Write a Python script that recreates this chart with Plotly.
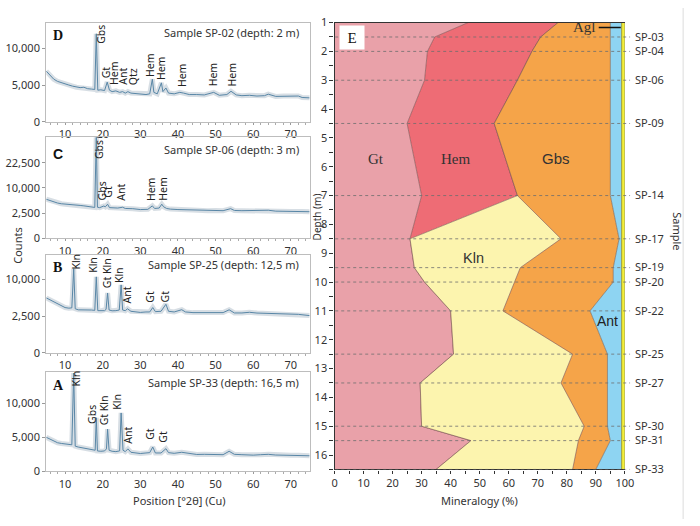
import numpy as np
import plotly.graph_objects as go

W, H = 700, 526
def fx(p): return p / W
def fy(p): return 1 - p / H

# ---------------- XRD data (2theta, counts) ----------------
D_tt = [5, 6, 7, 8, 9, 10, 11, 12, 13, 14, 15, 16, 17, 17.9, 18.3, 18.7, 19.5, 20.5, 21.2, 21.8, 22.5, 23.5, 24.5, 25.3,
        26, 26.7, 27.5, 28.5, 30, 31.5, 32.5, 33.2, 33.6, 34.5, 35.6, 36, 36.8, 37.5, 39, 40.5, 41.5, 43, 45, 47, 49.5,
        51, 53, 54.1, 55.5, 57, 59, 61, 63, 64, 66, 68, 70, 72, 73, 75]
D_cnt = [6900, 6300, 5800, 5500, 5300, 5150, 5000, 4850, 4700, 4650, 4700, 4500, 4450, 4400, 12000, 4300, 4350, 4250,
         5400, 4300, 4100, 4200, 4000, 4100, 3900, 4100, 3900, 3850, 3800, 3700, 3800, 5800, 4000, 3800, 5300, 4100,
         4600, 3900, 3800, 4000, 3900, 3700, 3700, 3650, 4000, 3600, 3700, 4150, 3650, 3550, 3600, 3500, 3550, 3750,
         3450, 3500, 3450, 3500, 3300, 3250]
D_labels = [("Gbs", 19.5, 10400), ("Gt", 20.8, 5600), ("Hem", 23.2, 4700), ("Ant", 25.4, 4700), ("Qtz", 27.9, 4700),
            ("Hem", 32.7, 5900), ("Hem", 35.7, 5370), ("Hem", 40.9, 4490), ("Hem", 49.2, 4490), ("Hem", 54.3, 4490)]

C_tt = [5, 6, 7, 8, 9, 10, 12, 14, 15, 16, 17, 17.9, 18.3, 18.6, 19.2, 20.3, 20.7, 21.3, 21.8, 23, 24, 25.3, 26, 28,
        30, 32, 33.2, 33.8, 35, 35.7, 36.2, 37, 38, 40, 42, 45, 48, 50, 52, 54, 55, 57, 60, 63, 64, 66, 70, 73, 75]
C_cnt = [6000, 5600, 5200, 4900, 4700, 4570, 4400, 4250, 4140, 4000, 3850, 3750, 42000, 3800, 3700, 4100, 3900, 4570,
         3700, 3650, 3600, 3800, 3500, 3450, 3250, 3300, 4140, 3500, 3600, 4570, 3900, 3500, 3350, 3250, 3200, 3050,
         3000, 3050, 3000, 3450, 3050, 3000, 3000, 2950, 3100, 2900, 2850, 2800, 2780]
C_labels = [("Gbs", 19.0, 23800), ("Gbs", 19.9, 5010), ("Gt", 21.5, 5960), ("Ant", 25.0, 5010),
            ("Hem", 32.7, 5010), ("Hem", 35.8, 5010)]

B_tt = [5, 6, 7, 8, 9, 10, 11, 11.8, 12.3, 12.7, 13.5, 15, 16, 17, 17.9, 18.3, 18.7, 19.5, 20.5, 20.9, 21.3, 21.7,
        22.5, 23.5, 24.4, 24.9, 25.3, 26, 26.6, 27.5, 29, 30, 31.5, 32.5, 33.3, 34, 35.5, 36.8, 37.5, 39, 41, 42, 44,
        46, 48, 50, 52, 53.6, 55, 57, 59, 61, 63, 66, 68, 70, 72, 75]
B_cnt = [5600, 5200, 4800, 4370, 4100, 3800, 3700, 3750, 13100, 3600, 3430, 3450, 3400, 3400, 3350, 10700, 3300, 3250,
         3300, 3500, 6640, 3400, 3280, 3300, 3400, 8560, 3400, 3300, 3600, 3200, 3150, 3030, 3100, 3100, 3800, 3150,
         3200, 4370, 3200, 3100, 3450, 3100, 3000, 3000, 2950, 2950, 3000, 3430, 2950, 2950, 3050, 2935, 2900, 2850,
         2850, 2800, 2750, 2570]
B_labels = [("Kln", 12.8, 12100), ("Kln", 17.6, 11170), ("Gt Kln", 21.0, 7380), ("Kln", 24.4, 8560),
            ("Ant", 26.5, 4080), ("Gt", 32.7, 4370), ("Gt", 36.6, 4370)]

A_tt = [5, 6, 7, 8, 9, 10, 11, 11.8, 12.3, 12.7, 13.5, 15, 16, 17.5, 18.0, 18.3, 18.6, 19.5, 20.5, 21.0, 21.3, 21.7,
        22.5, 23.5, 24.5, 24.9, 25.4, 26, 26.7, 27.5, 29, 30, 31.5, 32.5, 33.3, 34, 35.5, 36.8, 37.5, 39, 41, 43, 45,
        47, 50, 52, 53.6, 55, 57, 60, 62, 64, 66, 68, 70, 72, 75]
A_cnt = [5000, 4700, 4400, 4200, 4100, 4050, 3900, 3900, 14400, 3700, 3570, 3400, 3300, 3100, 3100, 7860, 3000, 2950,
         3000, 3300, 6190, 3100, 2950, 2900, 3000, 8570, 3100, 2900, 3300, 2800, 2700, 2620, 2700, 2750, 3570, 2700,
         2700, 3330, 2750, 2650, 2800, 2600, 2480, 2500, 2450, 2450, 2950, 2500, 2450, 2380, 2450, 2500, 2400, 2400,
         2380, 2350, 2290]
A_labels = [("Kln", 12.9, 12140), ("Gbs", 17.3, 6670), ("Gt Kln", 20.3, 6430), ("Kln", 23.9, 8810),
            ("Ant", 26.5, 3710), ("Gt", 32.5, 4290), ("Gt", 36.0, 3900)]

# ---------------- Mineralogy data (panel E) ----------------
depths = [1, 1.5, 2, 3, 4.5, 7, 8.5, 9.5, 10, 11, 12.5, 13.5, 15, 15.5, 16.5]
minerals = ["Gt", "Hem", "Kln", "Gbs", "Ant", "Agl"]
Gt = [46, 34.5, 32, 31, 25, 30, 26, 27.5, 31, 40, 41, 29.5, 30, 47, 35]
Hem = [31, 36.5, 36, 32, 30, 33, 0, 0, 0, 0, 0, 0, 0, 0, 0]
Kln = [0, 0, 0, 0, 0, 0, 52, 36.5, 31, 18, 41, 48.5, 56, 37, 47]
Gbs = [18, 24, 27, 32, 40, 32, 20, 32, 34, 30, 12, 16, 8, 11, 8]
Ant = [3.9, 3.9, 3.9, 3.9, 3.9, 3.9, 0.9, 2.9, 2.9, 10.9, 4.9, 4.9, 4.9, 3.9, 8.9]
Agl = [1.1] * 15
sample_depths = [1.5, 2, 3, 4.5, 7, 8.5, 9.5, 10, 11, 12.5, 13.5, 15, 15.5, 16.5]
sample_names = ["SP-03", "SP-04", "SP-06", "SP-09", "SP-14", "SP-17", "SP-19", "SP-20", "SP-22", "SP-25",
                "SP-27", "SP-30", "SP-31", "SP-33"]

fills = ["#E9A1A9", "#EE6C75", "#FCF4AE", "#F5A449", "#8ED4F2", "#F4EE3A"]
edge = ["rgba(120,80,80,0.75)", "rgba(120,80,80,0.75)", "rgba(120,80,80,0.75)", "rgba(120,90,70,0.75)",
        "#8c8c20", "#8c8c20"]

SANS = "Noto Sans"
SERIF = "Liberation Serif"
TXT = "#333333"

fig = go.Figure()

panels = [
    dict(letter="D", tt=D_tt, cnt=D_cnt, sq=False, top=15, bot=117, ymax=13530, tv=[0, 5000, 10000],
         tt_txt=["0", "5,000", "10,000"], title="Sample SP-02 (depth: 2 m)", labels=D_labels, ty=25, ly=28,
         lfont=SERIF),
    dict(letter="C", tt=C_tt, cnt=C_cnt, sq=True, top=133, bot=237, ymax=200.8 ** 2, tv=[0, 2500, 10000, 22500],
         tt_txt=["0", "2,500", "10,000", "22,500"], title="Sample SP-06 (depth: 3 m)", labels=C_labels, ty=146,
         ly=150, lfont="Liberation Sans"),
    dict(letter="B", tt=B_tt, cnt=B_cnt, sq=True, top=254, bot=355, ymax=133.5 ** 2, tv=[0, 2500, 10000],
         tt_txt=["0", "2,500", "10,000"], title="Sample SP-25 (depth: 12,5 m)", labels=B_labels, ty=264, ly=267,
         lfont=SERIF),
    dict(letter="A", tt=A_tt, cnt=A_cnt, sq=False, top=375, bot=477, ymax=14524, tv=[0, 5000, 10000],
         tt_txt=["0", "5,000", "10,000"], title="Sample SP-33 (depth: 16,5 m)", labels=A_labels, ty=385, ly=389,
         lfont=SERIF),
]

annotations = []
layout_axes = {}
for i, p in enumerate(panels, start=1):
    tf = (lambda v: np.sqrt(np.asarray(v, dtype=float))) if p["sq"] else (lambda v: np.asarray(v, dtype=float))
    xs = p["tt"]
    ys = tf(p["cnt"])
    fig.add_trace(go.Scatter(x=xs, y=ys, mode="lines", line=dict(color="rgba(175,190,202,0.5)", width=5),
                             hoverinfo="skip", showlegend=False, xaxis=f"x{i}", yaxis=f"y{i}"))
    fig.add_trace(go.Scatter(x=xs, y=ys, mode="lines", line=dict(color="#5886a6", width=1),
                             showlegend=False, xaxis=f"x{i}", yaxis=f"y{i}"))
    xa = "xaxis" if i == 1 else f"xaxis{i}"
    ya = "yaxis" if i == 1 else f"yaxis{i}"
    layout_axes[xa] = dict(domain=[fx(44), fx(312)], range=[5, 75], anchor=f"y{i}", tickvals=[10, 20, 30, 40, 50, 60, 70],
                           showline=True, linecolor="#bdbdbd", linewidth=1.2, mirror=True, ticks="outside",
                           ticklen=2, tickcolor="#999", showgrid=False, zeroline=False,
                           minor=dict(ticks="outside", dtick=2, ticklen=2, tickcolor="#aaa"),
                           tickfont=dict(family=SANS, size=11, color=TXT))
    layout_axes[ya] = dict(domain=[fy(p["bot"]), fy(p["top"])], range=[0, float(tf([p["ymax"]])[0])],
                           anchor=f"x{i}", tickvals=list(tf(p["tv"])), ticktext=p["tt_txt"], showline=True,
                           linecolor="#bdbdbd", linewidth=1.2, mirror=True, ticks="outside", ticklen=3,
                           tickcolor="#999", showgrid=False, zeroline=False,
                           tickfont=dict(family=SANS, size=11, color=TXT))
    for txt, x, c in p["labels"]:
        annotations.append(dict(text=txt, x=x, y=float(tf([c])[0]), xref=f"x{i}", yref=f"y{i}", textangle=-90,
                                xanchor="center", yanchor="bottom", showarrow=False,
                                font=dict(family=SANS, size=10.5, color="#222")))
    annotations.append(dict(text=p["title"], x=fx(303), y=fy(p["ty"]), xref="paper", yref="paper",
                            xanchor="right", yanchor="middle", showarrow=False,
                            font=dict(family=SANS, size=11, color=TXT)))
    annotations.append(dict(text=f"<b>{p['letter']}</b>", x=fx(49), y=fy(p["ly"]), xref="paper", yref="paper",
                            xanchor="left", yanchor="middle", showarrow=False,
                            font=dict(family=p["lfont"], size=14, color="#111")))

# ---------------- Panel E ----------------
cum = np.cumsum(np.array([Gt, Hem, Kln, Gbs, Ant, Agl], dtype=float), axis=0)
cum[-1] = np.minimum(cum[-1], 100)
for k, name in enumerate(minerals):
    fig.add_trace(go.Scatter(x=cum[k], y=depths, mode="lines", fill="tozerox" if k == 0 else "tonextx",
                             fillcolor=fills[k], line=dict(color=edge[k], width=0.8), name=name,
                             showlegend=False, xaxis="x5", yaxis="y5"))
# invisible trace for right axis
fig.add_trace(go.Scatter(x=[0], y=[1], mode="markers", marker=dict(opacity=0), showlegend=False,
                         hoverinfo="skip", xaxis="x5", yaxis="y6"))

layout_axes["xaxis5"] = dict(domain=[fx(337.3), fx(632.7)], range=[0, 100], anchor="y5", tickvals=list(range(0, 101, 10)),
                             showline=True, linecolor="#333", linewidth=1.2, mirror=True, ticks="outside",
                             ticklen=3, tickcolor="#333", showgrid=False, zeroline=False,
                             minor=dict(ticks="outside", dtick=5, ticklen=3, tickcolor="#333"),
                             tickfont=dict(family=SANS, size=11, color=TXT))
layout_axes["yaxis5"] = dict(domain=[fy(475), fy(15)], range=[16.5, 1], anchor="x5", tickvals=list(range(1, 17)),
                             showline=True, linecolor="#333", linewidth=1.2, ticks="outside", ticklen=4,
                             tickcolor="#333", showgrid=False, zeroline=False,
                             minor=dict(ticks="outside", dtick=0.5, tick0=1, ticklen=4, tickcolor="#333"),
                             tickfont=dict(family=SANS, size=11, color=TXT))
layout_axes["yaxis6"] = dict(overlaying="y5", side="right", anchor="x5", range=[16.5, 1], tickvals=sample_depths,
                             ticktext=sample_names, ticks="outside", ticklen=7, tickcolor="rgba(0,0,0,0)",
                             showline=False, showgrid=False, zeroline=False,
                             tickfont=dict(family=SANS, size=11, color=TXT))

shapes = []
for d in sample_depths:
    shapes.append(dict(type="line", xref="paper", yref="y5", x0=fx(338), x1=fx(638), y0=d, y1=d,
                       line=dict(color="rgba(110,110,110,0.8)", width=1, dash="dot"), layer="above"))
shapes.append(dict(type="line", xref="x5", yref="y5", x0=91, x1=98.6, y0=1.17, y1=1.17,
                   line=dict(color="#111", width=1.6), layer="above"))
shapes.append(dict(type="line", xref="paper", yref="paper", x0=fx(692), x1=fx(692), y0=0, y1=1,
                   line=dict(color="#dddddd", width=1)))

def pa(text, x, y, size=11, angle=0, family=SANS, color=TXT):
    return dict(text=text, x=fx(x), y=fy(y), xref="paper", yref="paper", xanchor="center", yanchor="middle",
                showarrow=False, textangle=angle, font=dict(family=family, size=size, color=color))

annotations += [
    dict(text="E", x=fx(342), y=fy(17), xref="paper", yref="paper", xanchor="left", yanchor="top", showarrow=False,
         bgcolor="white", width=20, height=19, borderpad=2, font=dict(family=SERIF, size=15, color="#111")),
    dict(text="Gt", x=14.2, y=5.72, xref="x5", yref="y5", showarrow=False, font=dict(family=SERIF, size=15, color="#333")),
    dict(text="Hem", x=41.5, y=5.72, xref="x5", yref="y5", showarrow=False, font=dict(family=SERIF, size=15, color="#333")),
    dict(text="Gbs", x=76.3, y=5.72, xref="x5", yref="y5", showarrow=False,
         font=dict(family="Liberation Sans", size=15, color="#333")),
    dict(text="Kln", x=47.7, y=9.17, xref="x5", yref="y5", showarrow=False,
         font=dict(family="Liberation Sans", size=14.5, color="#333")),
    dict(text="Ant", x=94, y=11.34, xref="x5", yref="y5", showarrow=False,
         font=dict(family="Liberation Sans", size=14, color="#222")),
    dict(text="Agl", x=90.6, y=1.17, xref="x5", yref="y5", xanchor="right", showarrow=False,
         font=dict(family=SERIF, size=15, color="#333")),
    pa("Mineralogy (%)", 485, 507),
    pa("Depth (m)", 319, 215, size=10, angle=-90),
    pa("Sample", 686, 230, angle=90),
    pa("Counts", 14, 245, angle=-90),
    pa("Position [°2θ] (Cu)", 180, 507),
]

fig.update_layout(width=W, height=H, autosize=False, margin=dict(l=0, r=0, t=0, b=0),
                  paper_bgcolor="white", plot_bgcolor="white", showlegend=False,
                  annotations=annotations, shapes=shapes, **layout_axes)
fig.write_html("out.html")
